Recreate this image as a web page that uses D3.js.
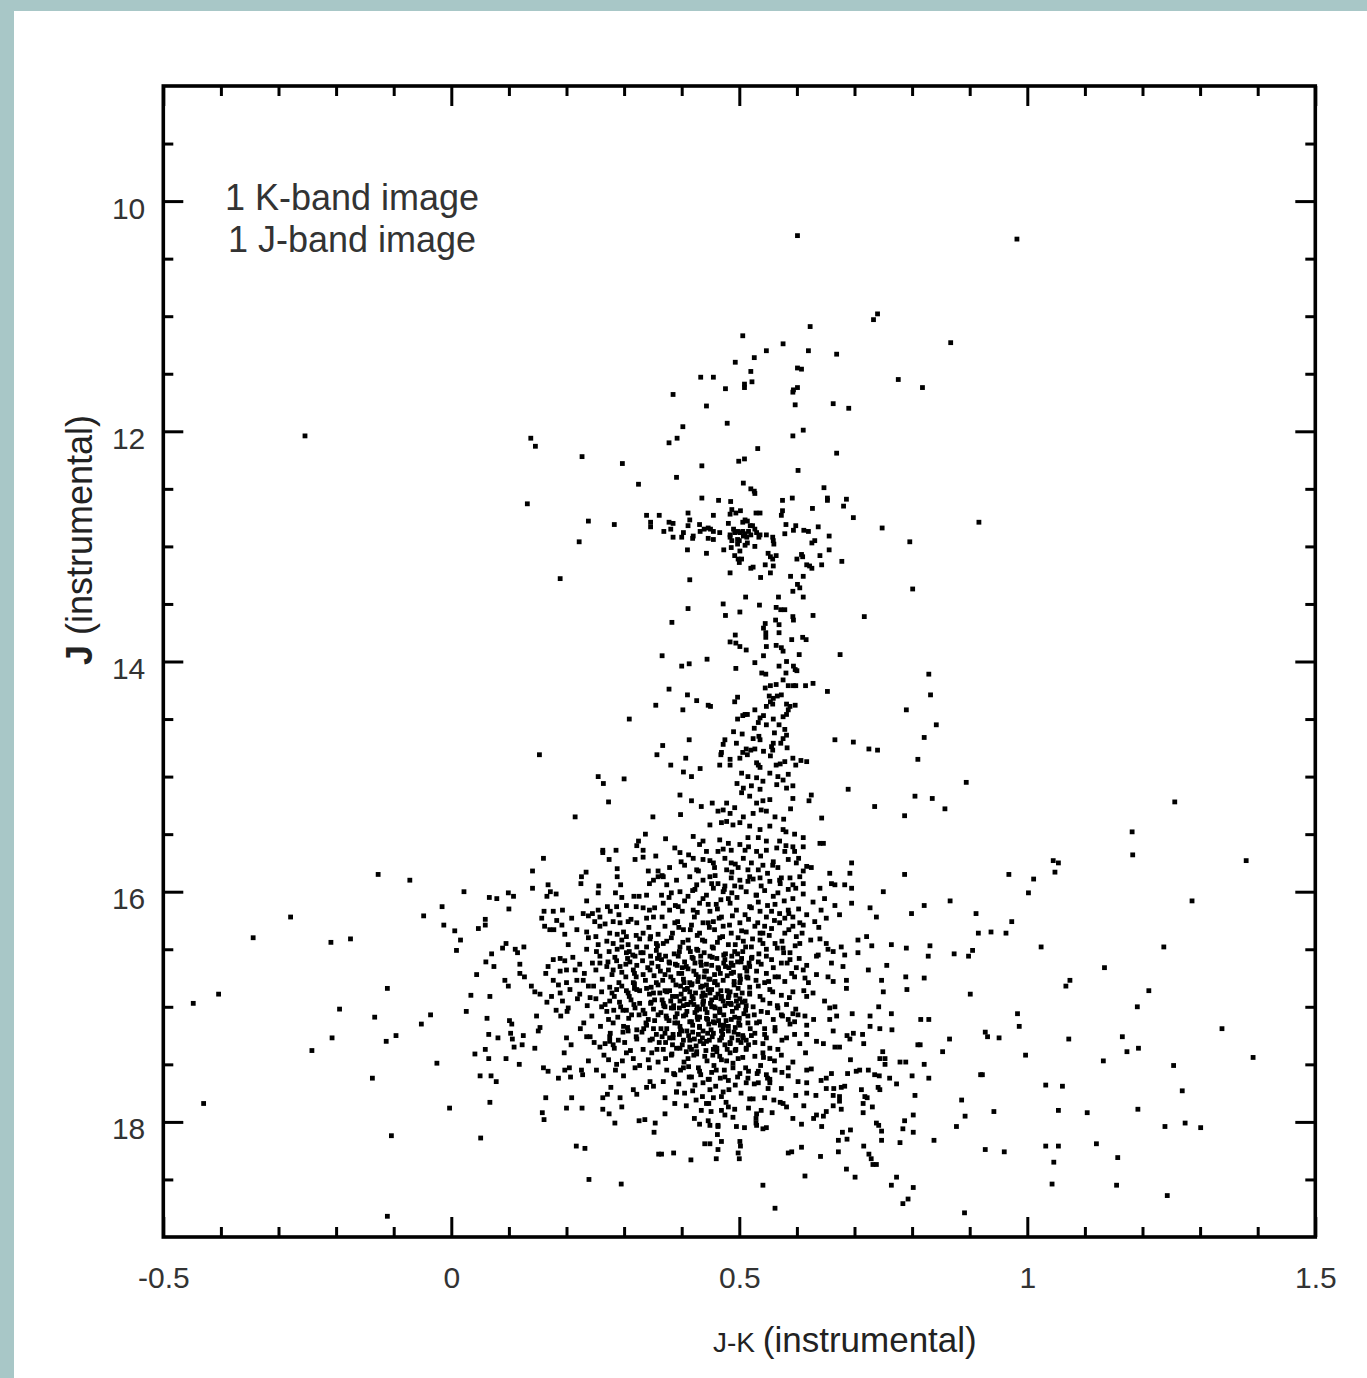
<!DOCTYPE html>
<html>
<head>
<meta charset="utf-8">
<script src="https://cdn.jsdelivr.net/npm/d3@7"></script>
<style>
  html, body { margin: 0; padding: 0; background: #ffffff; }
  svg { display: block; }
  text { font-family: "Liberation Sans", Arial, Helvetica, sans-serif; }
</style>
</head>
<body>
<svg id="chart" width="1367" height="1378"></svg>
<script>
// ---------------- data ----------------
const xDomain = [-0.5, 1.5];
const yDomain = [9, 19];
const xMajorTicks = [-0.5, 0, 0.5, 1, 1.5];
const xTickLabels = ["-0.5", "0", "0.5", "1", "1.5"];
const xMinorTicks = [-0.4,-0.3,-0.2,-0.1,0.1,0.2,0.3,0.4,0.6,0.7,0.8,0.9,1.1,1.2,1.3,1.4];
const yMajorTicks = [10, 12, 14, 16, 18];
const yTickLabels = ["10", "12", "14", "16", "18"];
const yMinorTicks = [9.5,10.5,11,11.5,12.5,13,13.5,14.5,15,15.5,16.5,17,17.5,18.5];
const annotationLines = ["1 K-band image", "1 J-band image"];
const xTitle = ["J-K", "(instrumental)"];
const yTitle = ["J", "(instrumental)"];

// [J-K, J] pairs
const brightStars = [
[0.601,10.30],[0.740,10.98],[0.733,11.03],[0.623,11.09],[0.506,11.17],[0.576,11.24],[0.547,11.30],[0.620,11.30],[0.669,11.33],[0.526,11.36],[0.493,11.40],[0.601,11.45],[0.608,11.46],[0.520,11.48],[0.433,11.53],[0.455,11.53],[0.776,11.55],[0.522,11.57],[0.509,11.59],[0.509,11.62],[0.476,11.63],[0.601,11.62],[0.594,11.64],[0.593,11.66],[0.385,11.68],[0.597,11.77],[0.663,11.76],[0.690,11.80],[0.443,11.78],[0.479,11.93],[0.402,11.96],[0.611,11.99],[0.593,12.04],[0.138,12.06],[0.146,12.13],[0.392,12.06],[0.378,12.10],[0.532,12.15],[0.669,12.19],[0.227,12.22],[0.297,12.28],[0.509,12.24],[0.499,12.26],[0.435,12.30],[0.602,12.34],[0.391,12.40],
[0.982,10.33],[0.867,11.23],[0.818,11.62],[0.916,12.79],[0.829,14.11],[0.832,14.29],[0.842,14.55],[0.821,14.66],[-0.254,12.04]
];

const clumpStars = [
[0.325,12.46],[0.507,12.45],[0.520,12.50],[0.526,12.52],[0.527,12.54],[0.132,12.63],[0.435,12.58],[0.464,12.60],[0.485,12.61],[0.575,12.60],[0.592,12.58],[0.647,12.49],[0.653,12.58],[0.653,12.60],[0.686,12.59],[0.681,12.65],[0.698,12.75],[0.627,12.67],
[0.487,12.68],[0.502,12.69],[0.494,12.71],[0.484,12.72],[0.529,12.71],[0.536,12.71],[0.575,12.69],[0.573,12.73],[0.455,12.73],[0.411,12.71],[0.414,12.77],[0.339,12.73],[0.361,12.73],[0.238,12.78],[0.283,12.81],[0.222,12.96],
[0.346,12.79],[0.346,12.83],[0.378,12.79],[0.385,12.80],[0.381,12.85],[0.369,12.87],[0.385,12.92],[0.400,12.92],[0.403,12.88],[0.411,12.82],[0.420,12.91],[0.419,12.93],[0.431,12.81],[0.432,12.87],[0.439,12.85],[0.446,12.84],[0.450,12.85],[0.455,12.87],[0.446,12.93],[0.455,12.94],[0.466,12.88],[0.481,12.80],[0.484,12.90],[0.490,12.85],[0.492,12.88],[0.497,12.87],[0.501,12.88],[0.506,12.87],[0.510,12.89],[0.516,12.87],[0.520,12.90],[0.523,12.82],[0.527,12.85],[0.530,12.88],[0.536,12.90],[0.534,12.92],[0.484,12.92],[0.487,12.95],[0.497,12.94],[0.507,12.91],[0.513,12.92],[0.514,12.97],[0.510,12.99],[0.497,12.98],[0.500,12.95],[0.547,12.90],[0.558,12.92],[0.559,12.95],[0.560,12.98],
[0.510,12.77],[0.514,12.78],[0.506,12.79],[0.519,12.82],[0.581,12.81],[0.598,12.82],[0.594,12.86],[0.612,12.86],[0.620,12.87],[0.637,12.83],[0.579,12.89],[0.656,12.91],[0.631,12.95],[0.626,12.97],[0.748,12.84],[0.796,12.96],
[0.410,13.03],[0.443,13.06],[0.473,13.03],[0.486,13.01],[0.501,13.04],[0.527,13.00],[0.492,13.08],[0.498,13.11],[0.504,13.11],[0.500,13.14],[0.550,13.06],[0.554,13.09],[0.564,13.08],[0.558,13.11],[0.600,13.11],[0.608,13.07],[0.610,13.09],[0.640,13.08],[0.656,13.03],[0.678,13.13],[0.617,13.16],[0.622,13.17],[0.626,13.19],[0.643,13.16],[0.545,13.16],[0.559,13.17],[0.554,13.23],[0.520,13.19],[0.524,13.18],[0.484,13.23],[0.537,13.27],[0.589,13.26],[0.611,13.26],[0.189,13.28],[0.414,13.29],
[0.601,13.33],[0.605,13.36],[0.593,13.39],[0.611,13.44],[0.511,13.44],[0.568,13.44],[0.801,13.37],
[0.411,13.54],[0.472,13.50],[0.535,13.51],[0.564,13.53],[0.572,13.55],[0.579,13.55],[0.501,13.57],[0.476,13.60],[0.593,13.61],[0.594,13.64],[0.628,13.60],[0.717,13.61],[0.563,13.64],[0.569,13.68],[0.545,13.67],[0.542,13.71],[0.546,13.75],[0.546,13.79],[0.569,13.75],[0.383,13.66],
[0.493,13.77],[0.484,13.83],[0.494,13.84],[0.501,13.87],[0.512,13.90],[0.547,13.87],[0.564,13.86],[0.573,13.88],[0.576,13.91],[0.591,13.81],[0.610,13.79],[0.616,13.81],[0.604,13.94],[0.675,13.94],[0.366,13.95],[0.444,13.98],[0.400,14.04],[0.413,14.02],[0.494,14.06],[0.527,14.01],[0.542,13.95],[0.539,14.10],[0.546,14.11],[0.569,14.04],[0.582,14.00],[0.594,14.04],[0.597,14.07],[0.600,14.08],[0.581,14.10],[0.576,14.16],
[0.378,14.24],[0.410,14.29],[0.426,14.34],[0.446,14.38],[0.450,14.39],[0.355,14.38],[0.402,14.42],[0.309,14.50],[0.497,14.31],[0.492,14.35],[0.545,14.23],[0.554,14.21],[0.564,14.20],[0.585,14.21],[0.594,14.21],[0.598,14.21],[0.615,14.21],[0.628,14.19],[0.653,14.26],[0.552,14.30],[0.559,14.32],[0.566,14.30],[0.573,14.29],[0.554,14.35],[0.547,14.39],[0.558,14.37],[0.582,14.37],[0.588,14.39],[0.597,14.38],[0.585,14.42],[0.582,14.46],[0.527,14.42],[0.514,14.46],[0.510,14.46],[0.506,14.47],[0.497,14.50],[0.536,14.49],[0.542,14.47],[0.533,14.53],[0.526,14.58],[0.547,14.55],[0.559,14.50],[0.569,14.55],[0.576,14.48],[0.790,14.42],
[0.153,14.81],[0.367,14.73],[0.413,14.68],[0.357,14.81],[0.407,14.84],[0.381,14.90],[0.490,14.61],[0.505,14.63],[0.524,14.67],[0.534,14.65],[0.536,14.68],[0.561,14.62],[0.579,14.59],[0.582,14.64],[0.576,14.67],[0.572,14.71],[0.583,14.75],[0.559,14.71],[0.556,14.74],[0.558,14.77],[0.542,14.78],[0.527,14.76],[0.520,14.77],[0.512,14.76],[0.506,14.79],[0.495,14.71],[0.475,14.68],[0.472,14.72],[0.469,14.79],[0.468,14.81],[0.501,14.84],[0.514,14.81],[0.554,14.82],[0.593,14.84],[0.607,14.86],[0.617,14.87],[0.666,14.68],[0.698,14.70],[0.725,14.76],[0.740,14.77],[0.484,14.85],[0.484,14.90],[0.466,14.90],[0.530,14.88],[0.533,14.90],[0.536,14.92],[0.564,14.90],[0.571,14.89],[0.579,14.87],[0.598,14.90],[0.432,14.93],[0.810,14.85]
];

const blueMidStars = [
[0.255,15.00],[0.264,15.06],[0.300,15.02],[0.273,15.22],[0.215,15.35],[0.350,15.35],[0.337,15.50],[0.325,15.56],[0.322,15.60],[0.333,15.64],[0.263,15.64],[0.286,15.64],[0.263,15.66],[0.274,15.72],[0.319,15.72],[0.333,15.70],[0.160,15.71],[0.355,15.69],[0.141,15.82],[0.226,15.87],[0.234,15.83],[0.225,15.93],[0.288,15.80],[0.288,15.87],[0.342,15.82],[0.359,15.82],
[-0.072,15.90],[0.022,16.00],[-0.016,16.13],[-0.048,16.21],[-0.013,16.29],[0.006,16.34],[0.016,16.42],[0.009,16.51],[0.047,16.32],[0.059,16.24],[0.059,16.29],[0.066,16.05],[0.079,16.06],[0.099,16.01],[0.108,16.04],[0.100,16.15],[0.141,15.97],[0.168,15.94],[0.166,16.04],[0.172,16.00],[0.182,16.02],
[0.256,15.95],[0.255,16.01],[0.294,15.94],[0.285,16.01],[0.296,16.05],[0.317,16.04],[0.326,16.04],[0.339,16.03],[0.344,15.93],[0.351,15.90],[0.359,15.87],[0.235,16.08],[0.229,16.19],[0.238,16.21],[0.245,16.19],[0.193,16.16],[0.177,16.17],[0.161,16.17],[0.157,16.23],[0.162,16.30],[0.171,16.33],[0.178,16.33],[0.183,16.25],[0.192,16.29],[0.209,16.23],[0.218,16.33],[0.197,16.37],[0.235,16.35],[0.255,16.16],[0.258,16.22],[0.271,16.13],[0.276,16.17],[0.287,16.13],[0.291,16.20],[0.304,16.12],[0.321,16.13],[0.333,16.14],[0.344,16.16],[0.351,16.22],[0.339,16.23],[0.322,16.27],[0.307,16.26],[0.293,16.27],[0.281,16.26],[0.267,16.28],[0.258,16.30],[0.249,16.26],
[0.275,16.36],[0.288,16.37],[0.299,16.35],[0.304,16.39],[0.296,16.42],[0.281,16.45],[0.270,16.43],[0.251,16.39],[0.238,16.40],[0.255,16.46],[0.321,16.38],[0.333,16.36],[0.345,16.41],[0.359,16.37],[0.356,16.45],[0.339,16.48],[0.322,16.48],[0.307,16.46],[0.203,16.46],[0.235,16.50],[0.252,16.52],[0.274,16.52],[0.288,16.50],[0.304,16.53],[0.319,16.56],[0.333,16.53],[0.346,16.56],[0.361,16.55],
[0.089,16.49],[0.095,16.45],[0.111,16.50],[0.115,16.53],[0.126,16.48],[0.070,16.54],[0.060,16.61],[0.074,16.65],[0.044,16.72],[-0.111,16.84],[0.034,16.90],[0.067,16.91],[0.093,16.77],[0.099,16.82],[0.119,16.63],[0.119,16.71],[0.127,16.74],[0.139,16.82],[0.145,16.87],[0.164,16.71],[0.168,16.65],[0.177,16.59],[0.189,16.58],[0.197,16.60],[0.211,16.57],[0.223,16.63],[0.189,16.69],[0.200,16.68],[0.215,16.68],[0.177,16.77],[0.186,16.81],[0.200,16.79],[0.218,16.77],[0.229,16.77],[0.238,16.82],[0.251,16.68],[0.258,16.62],[0.270,16.65],[0.281,16.68],[0.293,16.65],[0.310,16.61],[0.316,16.68],[0.303,16.74],[0.316,16.79],[0.333,16.72],[0.345,16.68],[0.359,16.65],[0.247,16.82],[0.261,16.87],[0.275,16.83],[0.287,16.85],[0.296,16.82],[0.307,16.88],[0.322,16.85],[0.339,16.84],[0.356,16.79],[0.351,16.88],[0.189,16.88],[0.174,16.91],[0.154,16.89],[0.223,16.89],[0.241,16.92],[0.206,16.85]
];

const redMidStars = [
[0.403,14.96],[0.417,15.00],[0.496,15.06],[0.504,14.97],[0.515,15.00],[0.530,15.01],[0.541,15.04],[0.553,14.97],[0.567,15.00],[0.576,15.03],[0.585,14.98],[0.565,15.07],[0.582,15.10],[0.593,15.08],[0.536,15.11],[0.521,15.08],[0.507,15.10],
[0.397,15.16],[0.417,15.21],[0.453,15.23],[0.478,15.23],[0.504,15.14],[0.518,15.17],[0.530,15.23],[0.541,15.21],[0.553,15.20],[0.593,15.19],[0.625,15.16],[0.621,15.21],[0.689,15.11],[0.735,15.26],[0.805,15.17],
[0.434,15.26],[0.398,15.33],[0.463,15.30],[0.472,15.29],[0.484,15.32],[0.492,15.27],[0.507,15.35],[0.524,15.32],[0.538,15.29],[0.547,15.30],[0.562,15.35],[0.577,15.37],[0.589,15.28],[0.643,15.36],[0.787,15.34],
[0.449,15.42],[0.469,15.40],[0.478,15.39],[0.489,15.42],[0.501,15.40],[0.518,15.43],[0.536,15.46],[0.553,15.43],[0.576,15.46],[0.581,15.48],[0.596,15.50],[0.611,15.53],
[0.372,15.54],[0.420,15.52],[0.437,15.56],[0.443,15.65],[0.466,15.55],[0.481,15.58],[0.501,15.59],[0.515,15.53],[0.533,15.53],[0.547,15.56],[0.570,15.56],[0.593,15.61],[0.611,15.61],[0.646,15.58],[0.640,15.58],[0.397,15.66],[0.463,15.65],[0.486,15.64],[0.510,15.64],[0.530,15.65],[0.547,15.64],[0.565,15.62],[0.579,15.65],[0.596,15.65],
[0.420,15.71],[0.405,15.77],[0.379,15.79],[0.437,15.72],[0.455,15.75],[0.475,15.71],[0.486,15.75],[0.507,15.71],[0.521,15.75],[0.541,15.77],[0.559,15.74],[0.567,15.79],[0.585,15.72],[0.599,15.75],[0.617,15.78],[0.625,15.79],[0.695,15.75],[0.657,15.84],[0.692,15.84],[0.787,15.85],[0.429,15.82],[0.457,15.79],[0.478,15.81],[0.498,15.79],[0.515,15.81],[0.533,15.81],
[0.368,15.87],[0.374,15.94],[0.391,15.90],[0.414,15.87],[0.426,15.94],[0.437,15.90],[0.449,15.87],[0.463,15.93],[0.475,15.95],[0.486,15.88],[0.501,15.90],[0.518,15.87],[0.536,15.88],[0.553,15.91],[0.570,15.90],[0.588,15.88],[0.593,15.94],[0.605,15.87],[0.611,15.93],[0.640,15.97],[0.660,15.93],[0.666,15.94],[0.683,15.94],[0.695,15.97],[0.750,16.00],
[0.365,16.03],[0.382,16.01],[0.397,16.00],[0.411,16.04],[0.423,15.98],[0.443,16.03],[0.455,15.97],[0.472,16.00],[0.481,16.06],[0.492,15.95],[0.512,16.00],[0.530,16.03],[0.538,15.95],[0.559,16.04],[0.567,16.01],[0.585,15.98],[0.593,16.06],[0.648,16.06],[0.666,16.12],[0.674,16.20],[0.695,16.10],[0.727,16.14],[0.738,16.22],[0.799,16.19],
[0.368,16.10],[0.379,16.16],[0.394,16.13],[0.405,16.08],[0.420,16.16],[0.431,16.10],[0.449,16.17],[0.460,16.11],[0.469,16.22],[0.484,16.10],[0.495,16.16],[0.510,16.20],[0.518,16.13],[0.536,16.17],[0.547,16.22],[0.562,16.11],[0.570,16.19],[0.585,16.16],[0.593,16.22],[0.605,16.27],[0.617,16.20],[0.651,16.23],[0.631,16.26],
[0.371,16.30],[0.388,16.27],[0.403,16.33],[0.417,16.29],[0.431,16.36],[0.446,16.27],[0.457,16.33],[0.472,16.30],[0.486,16.36],[0.501,16.27],[0.512,16.35],[0.527,16.30],[0.541,16.36],[0.556,16.32],[0.570,16.27],[0.579,16.36],[0.593,16.30],[0.611,16.29],[0.599,16.39],[0.640,16.41],[0.651,16.45],[0.706,16.42],[0.721,16.39],
[0.368,16.45],[0.382,16.40],[0.397,16.48],[0.411,16.42],[0.426,16.50],[0.440,16.43],[0.455,16.49],[0.466,16.40],[0.481,16.46],[0.492,16.52],[0.507,16.43],[0.521,16.48],[0.536,16.42],[0.547,16.50],[0.562,16.45],[0.576,16.49],[0.588,16.53],[0.605,16.45],[0.637,16.55],[0.654,16.50],[0.663,16.52],[0.677,16.48],[0.683,16.55],[0.706,16.53],[0.730,16.47],[0.764,16.46],[0.790,16.49],
[0.365,16.59],[0.379,16.62],[0.394,16.56],[0.408,16.65],[0.420,16.58],[0.434,16.64],[0.449,16.56],[0.463,16.66],[0.475,16.59],[0.489,16.64],[0.504,16.58],[0.518,16.65],[0.533,16.61],[0.547,16.56],[0.559,16.66],[0.573,16.62],[0.588,16.59],[0.599,16.66],[0.611,16.68],[0.634,16.56],[0.660,16.62],[0.680,16.65],[0.724,16.68],[0.756,16.64],
[0.371,16.72],[0.385,16.77],[0.400,16.71],[0.414,16.79],[0.429,16.74],[0.443,16.81],[0.457,16.72],[0.472,16.77],[0.486,16.71],[0.501,16.79],[0.515,16.75],[0.530,16.69],[0.544,16.79],[0.562,16.74],[0.579,16.78],[0.596,16.74],[0.614,16.75],[0.620,16.79],[0.634,16.72],[0.654,16.74],[0.663,16.78],[0.686,16.77],[0.747,16.77],[0.789,16.74],
[0.374,16.87],[0.391,16.91],[0.405,16.85],[0.420,16.93],[0.437,16.88],[0.452,16.85],[0.469,16.91],[0.484,16.87],[0.501,16.93],[0.518,16.88],[0.536,16.91],[0.553,16.85],[0.573,16.90],[0.593,16.87],[0.617,16.91],[0.628,16.88],[0.686,16.84],[0.750,16.87],[0.791,16.85]
];

const blueFaintStars = [
[-0.036,17.07],[-0.052,17.15],[-0.096,17.25],[-0.113,17.30],[0.026,17.04],[0.062,17.10],[-0.025,17.49],[0.041,17.41],[0.059,17.37],[0.065,17.24],[0.081,17.27],[0.065,17.45],[0.095,17.45],[0.118,17.50],[0.101,17.12],[0.105,17.15],[0.103,17.23],[0.106,17.28],[0.109,17.35],[0.125,17.25],[0.123,17.33],[0.145,17.36],[0.148,17.08],[0.154,17.18],[0.151,17.21],[0.166,16.96],[0.182,17.03],[0.190,17.08],[0.201,17.04],[0.193,16.95],[0.200,17.27],[0.196,17.40],[0.230,17.14],[0.235,17.26],[0.241,17.26],
[0.261,17.00],[0.275,16.95],[0.270,17.04],[0.273,17.11],[0.281,17.14],[0.294,17.00],[0.304,17.03],[0.313,17.07],[0.319,17.01],[0.299,17.17],[0.307,17.21],[0.322,17.20],[0.333,17.03],[0.342,17.11],[0.351,17.19],[0.339,17.16],[0.346,16.97],[0.359,17.07],[0.258,17.35],[0.267,17.32],[0.275,17.30],[0.281,17.33],[0.275,17.26],[0.290,17.29],[0.301,17.31],[0.322,17.28],[0.345,17.29],[0.356,17.24],[0.304,17.40],[0.316,17.45],[0.333,17.37],[0.348,17.40],[0.273,17.46],[0.287,17.50],[0.342,17.46],[0.359,17.48],[0.344,17.53],[0.319,17.53],
[0.160,17.53],[0.168,17.56],[0.197,17.55],[0.205,17.53],[0.226,17.55],[0.228,17.59],[0.207,17.61],[0.186,17.62],[0.264,17.60],[0.299,17.60],[0.050,17.60],[0.069,17.60],[0.078,17.65],[0.345,17.65],[0.351,17.69],[0.339,17.70],[0.316,17.72],[0.322,17.76],[0.277,17.70],[0.271,17.76],[0.263,17.79],[0.293,17.79],[0.067,17.83],[0.164,17.79],[0.209,17.79],[-0.003,17.88],[0.200,17.88],[0.227,17.88],[0.158,17.92],[0.161,17.98],[0.263,17.89],[0.274,17.93],[0.296,17.87],[0.284,18.01],[0.326,17.99],[0.336,17.98],[0.354,18.01],[0.352,18.09],[-0.104,18.12],[0.051,18.14],[0.217,18.21],[0.232,18.23],[0.360,18.28],[0.239,18.50],[0.295,18.54],[-0.111,18.82]
];

const redFaintStars = [
[0.368,16.97],[0.382,17.01],[0.397,16.95],[0.411,16.98],[0.426,17.03],[0.437,16.96],[0.452,17.00],[0.466,17.04],[0.481,16.97],[0.495,17.01],[0.510,16.95],[0.524,17.00],[0.538,17.04],[0.553,16.97],[0.567,17.01],[0.582,16.98],[0.593,17.06],[0.602,17.07],[0.614,17.08],
[0.374,17.10],[0.388,17.14],[0.403,17.08],[0.417,17.13],[0.431,17.17],[0.443,17.10],[0.457,17.14],[0.472,17.19],[0.486,17.11],[0.501,17.16],[0.515,17.08],[0.530,17.14],[0.544,17.19],[0.559,17.11],[0.573,17.07],[0.585,17.11],[0.596,17.13],[0.617,17.16],[0.629,17.11],[0.648,16.95],[0.657,17.01],[0.666,17.00],[0.669,17.08],[0.657,17.11],[0.696,17.06],[0.727,17.08],[0.742,17.00],[0.764,17.06],
[0.371,17.23],[0.385,17.27],[0.400,17.21],[0.414,17.29],[0.429,17.24],[0.443,17.30],[0.455,17.23],[0.469,17.27],[0.484,17.32],[0.498,17.24],[0.512,17.29],[0.527,17.23],[0.541,17.32],[0.562,17.21],[0.547,17.27],[0.582,17.27],[0.596,17.24],[0.605,17.32],[0.617,17.24],[0.634,17.30],[0.646,17.32],[0.663,17.21],[0.666,17.35],[0.674,17.35],[0.687,17.25],[0.698,17.23],[0.692,17.28],[0.714,17.24],[0.716,17.32],[0.727,17.17],[0.744,17.19],[0.765,17.20],[0.810,17.33],
[0.368,17.37],[0.382,17.42],[0.397,17.36],[0.411,17.45],[0.426,17.39],[0.440,17.43],[0.455,17.37],[0.469,17.46],[0.484,17.40],[0.498,17.45],[0.512,17.37],[0.527,17.43],[0.541,17.40],[0.553,17.45],[0.567,17.37],[0.573,17.42],[0.593,17.48],[0.615,17.40],[0.617,17.55],[0.625,17.54],[0.693,17.46],[0.709,17.55],[0.703,17.56],[0.688,17.58],[0.724,17.55],[0.735,17.59],[0.743,17.60],[0.749,17.39],[0.744,17.45],[0.753,17.45],[0.753,17.50],[0.761,17.62],[0.779,17.48],[0.789,17.48],[0.800,17.60],
[0.374,17.55],[0.388,17.59],[0.403,17.53],[0.417,17.61],[0.431,17.56],[0.446,17.63],[0.460,17.55],[0.475,17.61],[0.489,17.53],[0.501,17.58],[0.515,17.62],[0.533,17.56],[0.547,17.59],[0.553,17.63],[0.562,17.55],[0.585,17.53],[0.585,17.60],[0.602,17.65],[0.617,17.66],[0.633,17.77],[0.642,17.64],[0.651,17.62],[0.660,17.58],[0.664,17.71],[0.677,17.70],[0.683,17.69],[0.651,17.71],[0.663,17.77],[0.674,17.78],
[0.368,17.65],[0.391,17.74],[0.405,17.75],[0.449,17.72],[0.472,17.74],[0.469,17.78],[0.512,17.66],[0.533,17.66],[0.550,17.71],[0.553,17.66],[0.573,17.71],[0.598,17.77],[0.617,17.75],[0.518,17.80],[0.524,17.80],[0.371,17.79],[0.388,17.84],[0.425,17.81],[0.434,17.90],[0.443,17.84],[0.455,17.79],[0.481,17.87],[0.469,17.90],[0.475,17.94],[0.371,17.93],[0.530,17.93],[0.538,17.90],[0.529,17.97],[0.530,18.03],[0.541,18.06],[0.547,18.05],[0.560,17.81],[0.576,17.84],[0.582,17.87],[0.593,17.97],[0.608,18.02],[0.612,17.86],[0.634,17.94],[0.629,17.97],[0.643,18.04],[0.646,17.95],[0.651,17.91],[0.663,17.86],[0.677,17.89],[0.674,17.82],
[0.712,17.72],[0.718,17.78],[0.722,17.79],[0.715,17.84],[0.715,17.92],[0.731,17.87],[0.741,17.70],[0.744,17.72],[0.738,18.01],[0.742,18.03],[0.747,18.08],[0.747,18.16],[0.779,18.18],[0.787,17.99],[0.784,18.06],[0.802,17.94],[0.802,18.09],[0.773,17.67],[0.805,17.77],
[0.446,17.99],[0.449,18.03],[0.463,18.04],[0.495,18.04],[0.462,18.11],[0.469,18.17],[0.440,18.19],[0.449,18.19],[0.463,18.24],[0.501,18.17],[0.502,18.21],[0.498,18.27],[0.500,18.32],[0.460,18.32],[0.416,18.33],[0.386,18.27],[0.365,18.28],[0.591,18.26],[0.585,18.27],[0.608,18.22],[0.641,18.30],[0.672,18.26],[0.679,18.09],[0.687,18.15],[0.693,18.07],[0.672,18.16],[0.716,18.21],[0.725,18.28],[0.729,18.32],[0.732,18.37],[0.738,18.37],[0.686,18.41],[0.701,18.48],[0.614,18.47],[0.541,18.55],[0.562,18.75],[0.773,18.48],[0.764,18.55],[0.802,18.57],[0.793,18.67],[0.784,18.71]
];

// extra stars filling the crowded core of the diagram
const coreStars = [
[0.388,15.62],[0.412,15.68],[0.431,15.59],[0.449,15.73],[0.472,15.63],[0.493,15.76],[0.516,15.61],[0.537,15.69],[0.558,15.77],[0.581,15.60],[0.603,15.71],[0.426,15.81],[0.458,15.86],[0.487,15.83],[0.524,15.89],[0.549,15.84],[0.573,15.88],[0.611,15.82],[0.399,15.74],[0.366,15.86],
[0.452,15.93],[0.468,16.07],[0.503,15.96],[0.521,16.14],[0.544,15.99],[0.578,16.08],[0.611,16.02],[0.389,16.12],[0.427,16.18],[0.496,16.05],[0.556,16.17],[0.603,16.15],[0.419,15.99],[0.437,16.06],[0.462,16.15],[0.487,16.01],[0.533,16.09],[0.571,15.93],[0.628,16.09],[0.353,16.14],[0.378,16.05],[0.401,16.17],[0.515,15.91],[0.586,16.19],[0.642,16.16],[0.446,16.11],[0.474,15.98],[0.529,16.03],[0.549,16.12],[0.598,15.97],
[0.312,16.24],[0.327,16.41],[0.343,16.31],[0.358,16.47],[0.366,16.22],[0.384,16.36],[0.393,16.26],[0.402,16.44],[0.415,16.33],[0.422,16.22],[0.436,16.42],[0.448,16.31],[0.453,16.48],[0.465,16.23],[0.471,16.39],[0.483,16.29],[0.493,16.46],[0.504,16.34],[0.516,16.24],[0.523,16.41],[0.532,16.27],[0.541,16.45],[0.552,16.38],[0.561,16.25],[0.574,16.43],[0.586,16.33],[0.597,16.47],[0.609,16.36],[0.624,16.42],[0.638,16.31],[0.412,16.49],[0.437,16.27],[0.462,16.44],[0.488,16.21],[0.511,16.48],[0.536,16.36],[0.566,16.49],[0.579,16.23],[0.374,16.43],[0.346,16.39],[0.395,16.31],[0.427,16.38],[0.455,16.26],[0.498,16.40],[0.544,16.30],
[0.306,16.58],[0.318,16.71],[0.329,16.53],[0.337,16.77],[0.348,16.62],[0.356,16.51],[0.363,16.69],[0.372,16.56],[0.381,16.74],[0.389,16.63],[0.396,16.52],[0.404,16.79],[0.411,16.67],[0.418,16.57],[0.425,16.72],[0.433,16.61],[0.439,16.53],[0.447,16.76],[0.452,16.64],[0.461,16.58],[0.467,16.71],[0.476,16.54],[0.482,16.66],[0.491,16.78],[0.497,16.61],[0.506,16.52],[0.513,16.69],[0.522,16.57],[0.529,16.77],[0.538,16.63],[0.547,16.71],[0.556,16.59],[0.568,16.74],[0.577,16.53],[0.591,16.71],[0.604,16.58],[0.617,16.64],[0.352,16.73],[0.378,16.61],[0.401,16.66],[0.428,16.51],[0.443,16.69],[0.458,16.78],[0.473,16.62],[0.487,16.56],[0.501,16.73],[0.517,16.62],[0.534,16.54],[0.551,16.78],[0.583,16.62],
[0.318,16.84],[0.327,16.97],[0.336,17.06],[0.344,16.89],[0.351,17.02],[0.359,16.81],[0.366,16.94],[0.373,17.08],[0.379,16.86],[0.386,16.99],[0.392,17.06],[0.398,16.82],[0.404,16.93],[0.409,17.04],[0.414,16.87],[0.421,16.98],[0.427,17.09],[0.433,16.83],[0.438,16.95],[0.444,17.05],[0.449,16.88],[0.456,17.00],[0.462,16.81],[0.468,16.93],[0.473,17.07],[0.479,16.86],[0.486,16.98],[0.492,17.09],[0.498,16.84],[0.505,16.96],[0.511,17.03],[0.518,16.89],[0.526,17.07],[0.533,16.82],[0.541,16.94],[0.549,17.05],[0.558,16.87],[0.566,16.99],[0.575,17.08],[0.587,16.92],[0.598,17.02],[0.612,16.86],[0.384,16.91],[0.396,17.01],[0.418,16.91],[0.431,17.02],[0.452,16.94],[0.466,17.02],[0.481,16.92],[0.494,16.90],[0.417,16.81],[0.441,16.90],[0.403,16.99],[0.362,16.88],[0.423,17.05],[0.458,17.08],[0.437,16.98],[0.389,17.09],[0.371,17.00],[0.347,16.96],
[0.338,17.14],[0.349,17.28],[0.357,17.37],[0.364,17.19],[0.372,17.31],[0.378,17.12],[0.385,17.24],[0.391,17.36],[0.397,17.17],[0.403,17.29],[0.408,17.39],[0.414,17.13],[0.419,17.22],[0.425,17.34],[0.431,17.18],[0.436,17.27],[0.442,17.38],[0.447,17.15],[0.453,17.26],[0.458,17.35],[0.464,17.12],[0.469,17.21],[0.475,17.33],[0.481,17.17],[0.487,17.27],[0.493,17.38],[0.499,17.14],[0.506,17.25],[0.512,17.36],[0.519,17.19],[0.527,17.31],[0.535,17.13],[0.544,17.24],[0.553,17.36],[0.562,17.18],[0.574,17.29],[0.588,17.15],[0.396,17.24],[0.409,17.21],[0.422,17.28],[0.438,17.32],[0.451,17.20],[0.466,17.29],[0.479,17.37],[0.491,17.22],[0.503,17.31],[0.428,17.11],[0.461,17.39],[0.384,17.33],[0.417,17.37],[0.445,17.23],[0.473,17.16],[0.498,17.29],[0.521,17.25],[0.366,17.26],
[0.372,17.45],[0.386,17.58],[0.395,17.67],[0.404,17.48],[0.413,17.61],[0.421,17.42],[0.429,17.53],[0.437,17.66],[0.444,17.47],[0.452,17.57],[0.459,17.69],[0.466,17.43],[0.474,17.55],[0.481,17.64],[0.489,17.49],[0.497,17.61],[0.506,17.44],[0.516,17.56],[0.526,17.67],[0.537,17.51],[0.549,17.62],[0.561,17.47],[0.574,17.57],[0.412,17.52],[0.433,17.59],[0.456,17.51],[0.478,17.47],[0.493,17.68],[0.511,17.53],[0.531,17.58],[0.448,17.63],[0.423,17.68],[0.398,17.55],[0.467,17.62],[0.542,17.44],
[0.391,17.74],[0.408,17.86],[0.422,17.97],[0.436,17.78],[0.451,17.91],[0.463,18.03],[0.477,17.83],[0.489,17.96],[0.503,17.75],[0.516,17.88],[0.529,18.01],[0.544,17.79],[0.557,17.92],[0.419,17.73],[0.447,17.84],[0.482,17.72],[0.509,18.05],[0.431,18.02],[0.492,17.89],[0.571,17.83],
[0.258,16.56],[0.272,16.61],[0.284,16.57],[0.296,16.70],[0.309,16.52],[0.322,16.64],[0.245,16.62],[0.231,16.71],[0.262,16.76],[0.279,16.72],[0.291,16.79],[0.304,16.86],[0.318,16.80],[0.251,16.93],[0.267,16.98],[0.283,16.91],[0.298,17.03],[0.312,16.94],[0.326,17.07],[0.236,16.99],[0.219,16.93],[0.203,17.01],[0.244,17.08],[0.259,17.17],[0.276,17.23],[0.289,17.09],[0.306,17.18],[0.321,17.26],[0.334,17.19],[0.224,17.19],[0.208,17.33],[0.248,17.31],[0.265,17.42],[0.283,17.36],[0.297,17.47],[0.311,17.38],[0.327,17.51],[0.238,17.47],[0.252,17.55],[0.285,17.55]
];

// the darkest part of the blob, where stars overlap
const densestStars = [
[0.341,16.66],[0.347,16.83],[0.353,17.12],[0.358,16.58],[0.361,17.31],[0.367,16.77],[0.369,16.99],[0.374,17.19],[0.377,16.68],[0.381,16.95],[0.383,17.41],[0.387,16.54],[0.390,16.81],[0.393,17.14],[0.395,16.71],[0.399,16.89],[0.401,17.33],[0.405,16.61],[0.407,17.07],[0.410,16.84],[0.412,17.25],[0.415,16.52],[0.416,16.96],[0.419,17.16],[0.421,16.69],[0.424,16.88],[0.426,17.41],[0.428,16.78],[0.431,17.09],[0.433,16.56],[0.435,16.91],[0.437,17.21],[0.439,16.74],[0.441,17.02],[0.443,16.63],[0.446,16.85],[0.448,17.29],[0.450,16.97],[0.453,16.57],[0.455,17.13],[0.457,16.79],[0.459,16.92],[0.461,17.36],[0.464,16.67],[0.466,17.05],[0.468,16.86],[0.471,17.24],[0.473,16.55],[0.475,16.99],[0.477,17.12],[0.479,16.73],[0.482,16.90],[0.484,17.31],[0.486,16.62],[0.488,17.04],[0.491,16.81],[0.493,17.18],[0.495,16.95],[0.497,16.54],[0.500,17.10],[0.502,16.76],[0.505,16.88],[0.507,17.27],[0.510,16.66],[0.512,16.99],[0.515,17.14],[0.518,16.83],[0.521,16.58],
[0.353,16.94],[0.364,17.05],[0.371,16.86],[0.379,17.27],[0.386,17.01],[0.392,16.64],[0.398,17.20],[0.403,16.76],[0.409,16.98],[0.414,17.35],[0.418,16.80],[0.423,16.62],[0.427,17.00],[0.432,17.30],[0.436,16.82],[0.440,16.69],[0.445,17.11],[0.449,16.76],[0.454,17.42],[0.458,17.01],[0.463,16.89],[0.467,17.16],[0.472,16.95],[0.476,16.65],[0.481,17.21],[0.485,16.97],[0.490,16.70],[0.494,17.37],[0.498,16.99],[0.503,16.61],[0.508,17.06],[0.513,16.74],[0.516,17.33],
[0.296,16.48],[0.303,16.63],[0.309,16.91],[0.315,16.55],[0.321,16.74],[0.327,16.86],[0.332,16.60],[0.287,16.60],[0.279,16.88],[0.292,16.96],[0.308,17.10],[0.317,16.98],[0.331,17.22],[0.298,17.22],[0.282,17.03]
];

const farBlueStars = [
[-0.127,15.85],[-0.279,16.22],[-0.344,16.40],[-0.209,16.44],[-0.175,16.41],[-0.404,16.89],[-0.448,16.97],[-0.194,17.02],[-0.133,17.09],[-0.207,17.27],[-0.242,17.38],[-0.137,17.62],[-0.430,17.84]
];

const farRedStars = [
[0.894,15.05],[0.835,15.19],[0.857,15.28],[1.256,15.22],[1.182,15.48],[1.183,15.68],[1.380,15.73],[1.045,15.73],[1.054,15.75],[1.048,15.83],[0.968,15.85],[1.011,15.89],[1.002,16.01],[0.821,16.12],[0.866,16.08],[1.286,16.08],[0.911,16.19],[0.973,16.26],[0.915,16.36],[0.937,16.35],[0.963,16.36],[0.831,16.47],[0.828,16.56],[0.873,16.54],[0.898,16.56],[0.905,16.51],[1.024,16.48],[1.237,16.48],[1.134,16.66],[0.821,16.75],[1.074,16.77],[1.067,16.82],[1.211,16.86],[0.901,16.89],[1.191,17.00],[0.983,17.06],[0.986,17.17],[0.815,17.11],[0.829,17.11],[1.338,17.19],[0.927,17.22],[0.931,17.26],[0.951,17.27],[0.865,17.28],[1.072,17.28],[1.165,17.26],[1.173,17.39],[1.193,17.36],[0.814,17.33],[0.853,17.39],[0.997,17.42],[1.132,17.47],[1.392,17.44],[0.821,17.50],[1.254,17.51],[0.829,17.62],[0.919,17.59],[0.922,17.59],[1.032,17.68],[1.061,17.69],[1.269,17.73],[0.886,17.81],[0.892,17.95],[0.942,17.91],[1.054,17.90],[1.104,17.92],[1.192,17.89],[0.877,18.04],[1.239,18.04],[1.274,18.01],[1.301,18.05],[0.838,18.16],[0.927,18.24],[0.960,18.26],[1.032,18.21],[1.054,18.21],[1.120,18.19],[1.157,18.31],[1.046,18.35],[1.043,18.54],[1.155,18.55],[1.243,18.64],[0.891,18.79]
];

const allStars = [].concat(brightStars, clumpStars, blueMidStars, redMidStars,
                           blueFaintStars, redFaintStars, coreStars, densestStars,
                           farBlueStars, farRedStars);

// ---------------- layout ----------------
const W = 1367, H = 1378;
const plot = { left: 163.3, right: 1315.3, top: 86, bottom: 1237 };

const svg = d3.select("#chart");

// textured backdrop strips and white panel
svg.append("rect").attr("x", 0).attr("y", 0).attr("width", W).attr("height", H).attr("fill", "#a8c7c7");
svg.append("rect").attr("x", 14).attr("y", 11).attr("width", W - 14).attr("height", H - 11).attr("fill", "#ffffff");

const x = d3.scaleLinear().domain(xDomain).range([plot.left, plot.right]);
const y = d3.scaleLinear().domain(yDomain).range([plot.top, plot.bottom]);

// stars
const sz = 4.8;
svg.append("g").selectAll("rect")
  .data(allStars)
  .join("rect")
  .attr("x", d => x(d[0]) - sz / 2)
  .attr("y", d => y(d[1]) - sz / 2)
  .attr("width", sz)
  .attr("height", sz)
  .attr("fill", "#000");

// axes: inward ticks on all four sides
const tickW = 3, majorLen = 20, minorLen = 10;
function styleAxis(g) {
  g.select(".domain").remove();
  g.selectAll(".tick line").attr("stroke", "#000").attr("stroke-width", tickW);
}

// bottom
const gB = svg.append("g").attr("transform", `translate(0,${plot.bottom})`);
gB.call(d3.axisBottom(x).tickValues(xMajorTicks).tickSizeInner(-majorLen).tickSizeOuter(0).tickPadding(30)
  .tickFormat((d, i) => xTickLabels[i]));
styleAxis(gB);
gB.selectAll(".tick text").attr("font-size", 30).attr("fill", "#333").attr("font-family", "Liberation Sans, Arial, sans-serif");
const gBm = svg.append("g").attr("transform", `translate(0,${plot.bottom})`);
gBm.call(d3.axisBottom(x).tickValues(xMinorTicks).tickSizeInner(-minorLen).tickSizeOuter(0).tickFormat(""));
styleAxis(gBm);

// top
const gT = svg.append("g").attr("transform", `translate(0,${plot.top})`);
gT.call(d3.axisTop(x).tickValues(xMajorTicks).tickSizeInner(-majorLen).tickSizeOuter(0).tickFormat(""));
styleAxis(gT);
const gTm = svg.append("g").attr("transform", `translate(0,${plot.top})`);
gTm.call(d3.axisTop(x).tickValues(xMinorTicks).tickSizeInner(-minorLen).tickSizeOuter(0).tickFormat(""));
styleAxis(gTm);

// left
const gL = svg.append("g").attr("transform", `translate(${plot.left},0)`);
gL.call(d3.axisLeft(y).tickValues(yMajorTicks).tickSizeInner(-majorLen).tickSizeOuter(0).tickPadding(18)
  .tickFormat((d, i) => yTickLabels[i]));
styleAxis(gL);
gL.selectAll(".tick text").attr("font-size", 30).attr("fill", "#333").attr("dy", "17px")
  .attr("font-family", "Liberation Sans, Arial, sans-serif");
const gLm = svg.append("g").attr("transform", `translate(${plot.left},0)`);
gLm.call(d3.axisLeft(y).tickValues(yMinorTicks).tickSizeInner(-minorLen).tickSizeOuter(0).tickFormat(""));
styleAxis(gLm);

// right
const gR = svg.append("g").attr("transform", `translate(${plot.right},0)`);
gR.call(d3.axisRight(y).tickValues(yMajorTicks).tickSizeInner(-majorLen).tickSizeOuter(0).tickFormat(""));
styleAxis(gR);
const gRm = svg.append("g").attr("transform", `translate(${plot.right},0)`);
gRm.call(d3.axisRight(y).tickValues(yMinorTicks).tickSizeInner(-minorLen).tickSizeOuter(0).tickFormat(""));
styleAxis(gRm);

// frame
svg.append("rect")
  .attr("x", plot.left).attr("y", plot.top)
  .attr("width", plot.right - plot.left).attr("height", plot.bottom - plot.top)
  .attr("fill", "none").attr("stroke", "#000").attr("stroke-width", 3.6);

// annotation
const ann = svg.append("g");
ann.append("text").attr("x", 352).attr("y", 210).attr("text-anchor", "middle")
  .attr("font-size", 36).attr("fill", "#333").text(annotationLines[0]);
ann.append("text").attr("x", 352).attr("y", 252).attr("text-anchor", "middle")
  .attr("font-size", 36).attr("fill", "#333").text(annotationLines[1]);

// x title
const xt = svg.append("text").attr("x", 713).attr("y", 1352).attr("text-anchor", "start").attr("fill", "#222");
xt.append("tspan").attr("font-size", 28).text(xTitle[0] + " ");
xt.append("tspan").attr("font-size", 35).text(xTitle[1]);

// y title (rotated)
const yt = svg.append("text").attr("transform", "translate(92,540) rotate(-90)")
  .attr("text-anchor", "middle").attr("fill", "#222");
yt.append("tspan").attr("font-size", 36).attr("font-weight", "bold").text(yTitle[0] + " ");
yt.append("tspan").attr("font-size", 36).text(yTitle[1]);
</script>
</body>
</html>
